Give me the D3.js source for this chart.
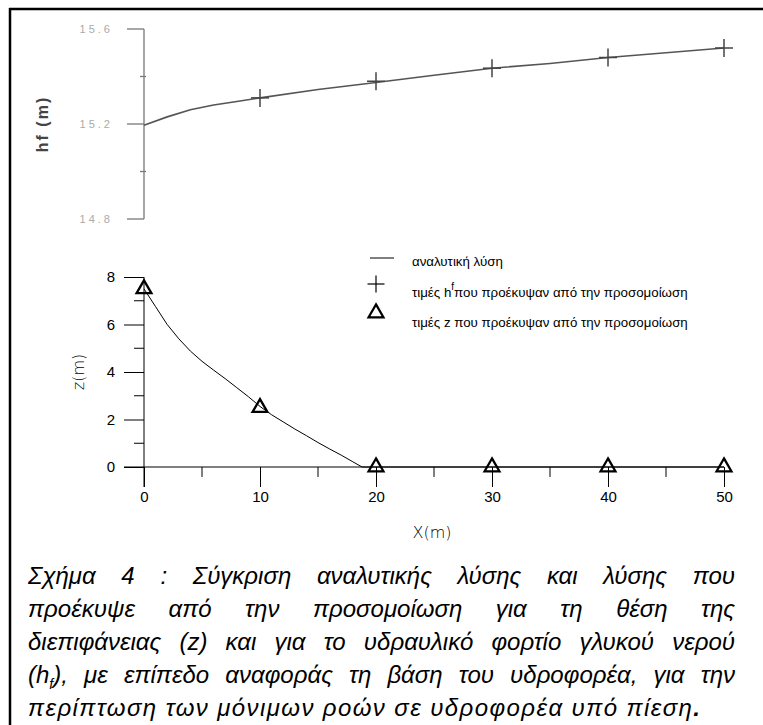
<!DOCTYPE html>
<html>
<head>
<meta charset="utf-8">
<script src="https://cdn.jsdelivr.net/npm/d3@7"></script>
<style>
  body { margin: 0; background: #fff; }
  #wrap { position: relative; width: 763px; height: 725px; overflow: hidden; }
  svg { position: absolute; left: 0; top: 0; }
  #caption { position: absolute; left: 28px; top: 559px; width: 707px;
    font-family: "Liberation Sans", Arial, sans-serif; font-style: italic;
    font-size: 24px; line-height: 33px; color: #000; }
  #caption div { white-space: nowrap; height: 33px; }
  #caption sub { font-size: 14px; line-height: 0; }
</style>
</head>
<body>
<div id="wrap">
  <svg id="chart" width="763" height="725"></svg>
  <div id="caption"></div>
</div>
<script>
// upper panel: fresh water head hf along x
let hfTicks = [14.8, 15.2, 15.6];
let hfMinor = [15.0, 15.4];
let hfLineX = [0, 2, 4, 6, 8, 10, 15, 20, 25, 30, 35, 40, 45, 50];
let hfLineY = [15.195, 15.23, 15.26, 15.28, 15.295, 15.31, 15.345, 15.375, 15.405, 15.435, 15.455, 15.48, 15.50, 15.52];
let hfSimX = [10, 20, 30, 40, 50];
let hfSimY = [15.31, 15.38, 15.435, 15.48, 15.52];

// lower panel: interface z along x
let xTicks = [0, 10, 20, 30, 40, 50];
let xMinor = [5, 15, 25, 35, 45];
let zTicks = [0, 2, 4, 6, 8];
let zMinor = [1, 3, 5, 7];
let zLineX = [0, 1, 2, 3, 4, 5, 6, 7, 8, 9, 10, 11, 12, 13, 14, 15, 16, 17, 18, 18.8, 50];
let zLineY = [7.5, 6.75, 6.0, 5.4, 4.88, 4.45, 4.08, 3.72, 3.34, 2.96, 2.55, 2.2, 1.9, 1.6, 1.32, 1.03, 0.76, 0.5, 0.22, 0, 0];
let zSimX = [0, 10, 20, 30, 40, 50];
let zSimY = [7.5, 2.5, 0, 0, 0, 0];

let legendLabels = ["αναλυτική λύση", "τιμές h", "τιμές z που προέκυψαν από την προσομοίωση"];

let captionLines = [
  "Σχήμα 4 : Σύγκριση αναλυτικής λύσης και λύσης που",
  "προέκυψε από την προσομοίωση για τη θέση της",
  "διεπιφάνειας (z) και για το υδραυλικό φορτίο γλυκού νερού",
  "(h<sub>f</sub>), με επίπεδο αναφοράς τη βάση του υδροφορέα, για την",
  "περίπτωση των μόνιμων ροών σε υδροφορέα υπό πίεση<b>.</b>"
];

let svg = d3.select("#chart");

// frame (left and top edge only are visible)
svg.append("line").attr("x1", 10).attr("x2", 10).attr("y1", 8).attr("y2", 725)
  .attr("stroke", "#000").attr("stroke-width", 2.5);
svg.append("line").attr("x1", 9).attr("x2", 763).attr("y1", 9).attr("y2", 9)
  .attr("stroke", "#000").attr("stroke-width", 2.5);

let x = d3.scaleLinear().domain([0, 50]).range([144, 724]);
let yH = d3.scaleLinear().domain([14.8, 15.6]).range([219, 29]);
let yZ = d3.scaleLinear().domain([0, 8]).range([467, 277]);

// ---- upper panel (the scanned original is faint and blurry here)
let upper = svg.append("g");
let gray = "#777";
upper.append("line").attr("x1", x(0)).attr("x2", x(0))
  .attr("y1", yH(15.6)).attr("y2", yH(14.8)).attr("stroke", gray).attr("stroke-width", 1.3);
upper.selectAll(".hmaj").data(hfTicks).join("line")
  .attr("x1", x(0) - 17).attr("x2", x(0)).attr("y1", d => yH(d)).attr("y2", d => yH(d))
  .attr("stroke", gray).attr("stroke-width", 1.3);
upper.selectAll(".hmin").data(hfMinor).join("line")
  .attr("x1", x(0) - 4).attr("x2", x(0) + 2).attr("y1", d => yH(d)).attr("y2", d => yH(d))
  .attr("stroke", gray).attr("stroke-width", 1.3);
upper.selectAll(".hlab").data(hfTicks).join("text")
  .attr("x", 113).attr("y", d => yH(d) + 4).attr("text-anchor", "end")
  .attr("font-family", "Liberation Sans, Arial, sans-serif").attr("font-size", 11)
  .attr("letter-spacing", 3).attr("fill", "#aaa").text(d => d3.format(".1f")(d));
upper.append("text").attr("transform", "translate(48," + yH(15.2) + ") rotate(-90)")
  .attr("text-anchor", "middle").attr("font-family", "Liberation Sans, Arial, sans-serif")
  .attr("font-size", 16).attr("font-weight", "bold").attr("letter-spacing", 2)
  .attr("fill", "#444").text("hf (m)");

let lineH = d3.line().x(d => x(d[0])).y(d => yH(d[1]));
upper.append("path").datum(d3.zip(hfLineX, hfLineY)).attr("d", lineH)
  .attr("fill", "none").attr("stroke", "#555").attr("stroke-width", 1.6);

function plus(sel, size, color, w) {
  sel.append("line").attr("x1", -size / 2).attr("x2", size / 2).attr("stroke", color).attr("stroke-width", w);
  sel.append("line").attr("y1", -size / 2).attr("y2", size / 2).attr("stroke", color).attr("stroke-width", w);
}
upper.selectAll(".hsim").data(d3.zip(hfSimX, hfSimY)).join("g")
  .attr("transform", d => "translate(" + x(d[0]) + "," + yH(d[1]) + ")")
  .each(function() { plus(d3.select(this), 18, "#444", 1.5); });

// ---- lower panel
let bot = svg.append("g");
let yAxis = d3.axisLeft(yZ).tickValues(zTicks).tickSize(20).tickPadding(9).tickFormat(d3.format("d"));
let yg = bot.append("g").attr("transform", "translate(" + x(0) + ",0)").call(yAxis);
yg.select(".domain").remove();
bot.append("line").attr("x1", x(0)).attr("x2", x(0)).attr("y1", yZ(8)).attr("y2", yZ(0) + 20)
  .attr("stroke", "#000");
bot.selectAll(".zmin").data(zMinor).join("line")
  .attr("x1", x(0) - 10).attr("x2", x(0)).attr("y1", d => yZ(d)).attr("y2", d => yZ(d))
  .attr("stroke", "#000");

let xAxis = d3.axisBottom(x).tickValues(xTicks).tickSize(20).tickPadding(4).tickFormat(d3.format("d"));
let xg = bot.append("g").attr("transform", "translate(0," + yZ(0) + ")").call(xAxis);
xg.select(".domain").remove();
bot.append("line").attr("x1", x(0) - 20).attr("x2", x(50)).attr("y1", yZ(0)).attr("y2", yZ(0))
  .attr("stroke", "#000");
bot.selectAll(".xmin").data(xMinor).join("line")
  .attr("x1", d => x(d)).attr("x2", d => x(d)).attr("y1", yZ(0)).attr("y2", yZ(0) + 10)
  .attr("stroke", "#000");
bot.selectAll(".tick text").attr("font-family", "Liberation Sans, Arial, sans-serif")
  .attr("font-size", 15).attr("fill", "#000");
bot.selectAll(".tick line").attr("stroke", "#000");

bot.append("text").attr("transform", "translate(84,372) rotate(-90)").attr("text-anchor", "middle")
  .attr("font-family", "DejaVu Sans, sans-serif").attr("font-weight", 300).attr("font-size", 16)
  .attr("fill", "#000").text("z(m)");
bot.append("text").attr("x", 432).attr("y", 538).attr("text-anchor", "middle")
  .attr("font-family", "DejaVu Sans, sans-serif").attr("font-weight", 300).attr("font-size", 16)
  .attr("fill", "#000").text("X(m)");

let lineZ = d3.line().x(d => x(d[0])).y(d => yZ(d[1]));
bot.append("path").datum(d3.zip(zLineX, zLineY)).attr("d", lineZ)
  .attr("fill", "none").attr("stroke", "#000").attr("stroke-width", 1);

let tri = d3.symbol().type(d3.symbolTriangle).size(95);
bot.selectAll(".zsim").data(d3.zip(zSimX, zSimY)).join("path")
  .attr("d", tri).attr("transform", d => "translate(" + x(d[0]) + "," + yZ(d[1]) + ")")
  .attr("fill", "none").attr("stroke", "#000").attr("stroke-width", 2.3);

// ---- legend
let leg = svg.append("g").attr("font-family", "Liberation Sans, Arial, sans-serif")
  .attr("font-size", 13.3).attr("fill", "#000");
leg.append("line").attr("x1", 370).attr("x2", 394).attr("y1", 258).attr("y2", 258)
  .attr("stroke", "#000");
leg.append("g").attr("transform", "translate(376,284)").call(g => plus(g, 17, "#000", 1.2));
leg.append("path").attr("d", tri).attr("transform", "translate(376,313)")
  .attr("fill", "none").attr("stroke", "#000").attr("stroke-width", 2.3);
leg.append("text").attr("x", 412).attr("y", 266).text(legendLabels[0]);
let t2 = leg.append("text").attr("x", 412).attr("y", 297).text(legendLabels[1]);
t2.append("tspan").attr("font-size", 10).attr("dy", -7).text("f");
t2.append("tspan").attr("dy", 7).text("που προέκυψαν από την προσομοίωση");
leg.append("text").attr("x", 412).attr("y", 327).text(legendLabels[2]);

// ---- caption: one row per reference line, spread by word spacing
let cap = d3.select("#caption");
let rows = cap.selectAll("div").data(captionLines).join("div");
rows.append("span").html(d => d);
rows.each(function(d, i) {
  let span = d3.select(this).select("span");
  let w = span.node().getBoundingClientRect().width;
  let txt = span.node().textContent;
  if (i < captionLines.length - 1) {
    let gaps = txt.split(" ").length - 1;
    span.style("word-spacing", ((707 - w) / gaps) + "px");
  } else {
    span.style("letter-spacing", ((672 - w) / (txt.length - 1)) + "px");
  }
});
</script>
</body>
</html>
